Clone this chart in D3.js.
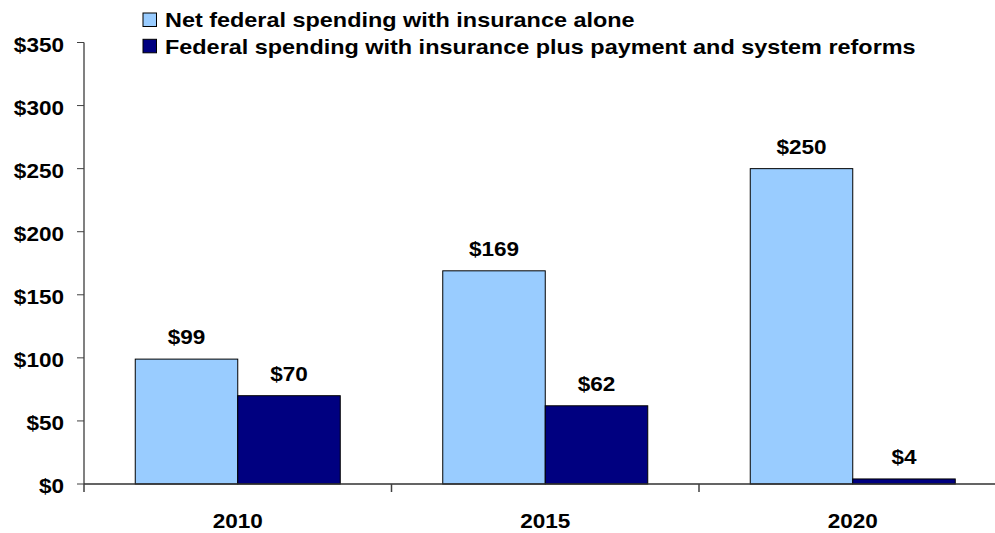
<!DOCTYPE html>
<head>
  <meta charset="utf-8">
  <script src="https://d3js.org/d3.v7.min.js"></script>
  <style>
    body { margin:0; background:#fff; }
    text { font-family: "Liberation Sans", Arial, sans-serif; font-weight: bold; fill: #000; }
  </style>
</head>
<body>
  <script>
    // chart values
    var years = ['2010', '2015', '2020'];
    var seriesNames = ['Net federal spending with insurance alone',
                       'Federal spending with insurance plus payment and system reforms'];
    var insuranceAlone = [99, 169, 250];
    var withReforms = [70, 62, 4];
    var yTicks = [0, 50, 100, 150, 200, 250, 300, 350];
    var colors = ['#99CCFF', '#000080'];

    var width = 995, height = 533;
    var x0 = 84, x1 = 1006.5, yBottom = 484, yTop = 42.5;
    var sx = 1.1; // reference text is a little wider than Arial

    var svg = d3.select('body').append('svg')
      .attr('width', width).attr('height', height);

    var xScale = d3.scaleBand().domain(years).range([x0, x1])
      .paddingInner(1/3).paddingOuter(1/6);
    var xSub = d3.scaleBand().domain([0, 1]).range([0, xScale.bandwidth()]);
    var yScale = d3.scaleLinear().domain([0, 350]).range([yBottom, yTop]);

    var rows = years.map(function(y, i) {
      return {year: y, vals: [insuranceAlone[i], withReforms[i]]};
    });

    // y axis
    var yAxisG = svg.append('g');
    yAxisG.append('line')
      .attr('x1', x0).attr('x2', x0).attr('y1', yScale(350)).attr('y2', yScale(0))
      .attr('stroke', '#808080').attr('stroke-width', 2);
    yAxisG.selectAll('.ytick').data(yTicks).enter().append('line')
      .attr('x1', x0 - 7).attr('x2', x0)
      .attr('y1', d => yScale(d)).attr('y2', d => yScale(d))
      .attr('stroke', '#404040').attr('stroke-width', 1);
    yAxisG.selectAll('.ylab').data(yTicks).enter().append('text')
      .attr('text-anchor', 'end')
      .attr('font-size', 20.5)
      .attr('transform', d => `translate(64,${yScale(d) + 9}) scale(${sx},1)`)
      .text(d => '$' + d);

    // bars
    var groups = svg.selectAll('.grp').data(rows).enter().append('g')
      .attr('transform', d => `translate(${xScale(d.year)},0)`);
    groups.selectAll('rect').data(d => d.vals).enter().append('rect')
      .attr('x', (d, i) => xSub(i))
      .attr('y', d => yScale(d))
      .attr('width', xSub.bandwidth())
      .attr('height', d => yScale(0) - yScale(d))
      .attr('fill', (d, i) => colors[i])
      .attr('stroke', '#000').attr('stroke-width', 1);
    groups.selectAll('.lab').data(d => d.vals).enter().append('text')
      .attr('text-anchor', 'middle')
      .attr('font-size', 20.5)
      .attr('transform', (d, i) => `translate(${xSub(i) + xSub.bandwidth() / 2},${yScale(d) - 15}) scale(${sx},1)`)
      .text(d => '$' + d);

    // x axis
    var xAxisG = svg.append('g');
    xAxisG.append('line')
      .attr('x1', x0).attr('x2', x1).attr('y1', yBottom).attr('y2', yBottom)
      .attr('stroke', '#303030').attr('stroke-width', 1.5);
    var step = xScale.step();
    xAxisG.selectAll('.xtick').data(d3.range(years.length + 1)).enter().append('line')
      .attr('x1', i => x0 + i * step).attr('x2', i => x0 + i * step)
      .attr('y1', yBottom).attr('y2', yBottom + 8)
      .attr('stroke', '#404040').attr('stroke-width', 1.5);
    xAxisG.selectAll('.xlab').data(years).enter().append('text')
      .attr('text-anchor', 'middle')
      .attr('font-size', 20.5)
      .attr('transform', d => `translate(${xScale(d) + xScale.bandwidth() / 2},528) scale(${sx},1)`)
      .text(d => d);

    // legend
    var legend = svg.selectAll('.leg').data(seriesNames).enter().append('g')
      .attr('transform', (d, i) => `translate(143,${13 + i * 26.3})`);
    legend.append('rect')
      .attr('width', 13.5).attr('height', 13.5)
      .attr('fill', (d, i) => colors[i])
      .attr('stroke', '#000').attr('stroke-width', 1);
    legend.append('text')
      .attr('font-size', 21)
      .attr('transform', `translate(22,14.3) scale(1.115,1)`)
      .text(d => d);
  </script>
</body>
